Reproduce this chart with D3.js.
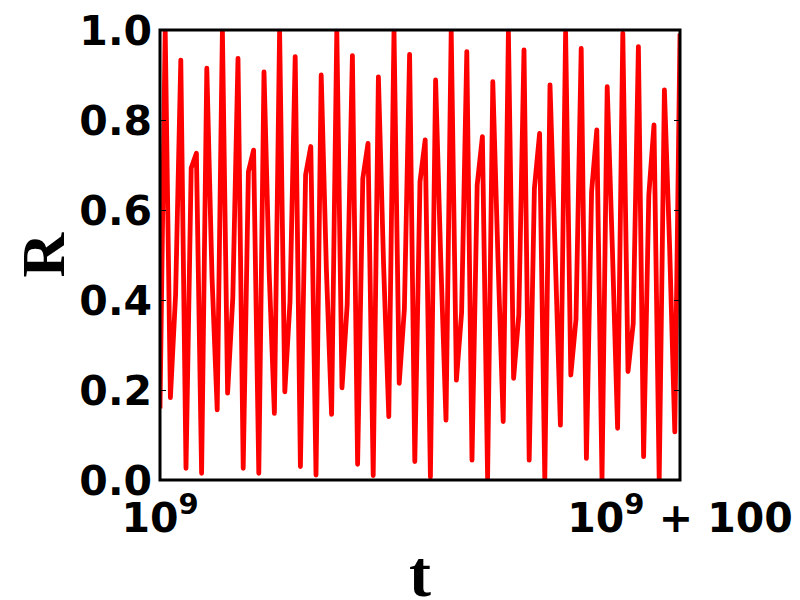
<!DOCTYPE html>
<html>
<head>
<meta charset="utf-8">
<script src="https://cdn.jsdelivr.net/npm/d3@7"></script>
<style>
  body { margin: 0; background: #fff; }
  .tick-label { font-family: "DejaVu Sans", sans-serif; font-weight: bold; font-size: 41px; fill: #000; }
  .axis-label { font-family: "Liberation Serif", serif; font-weight: bold; fill: #000; }
</style>
</head>
<body>
<div id="chart"></div>
<script>
'use strict';

// R sampled once per step, t = 10^9 + 0 ... 10^9 + 100
var rValues = [
  0.159, 1.000, 0.183, 0.412, 0.933, 0.026, 0.693, 0.726, 0.015, 0.915, 0.452,
  0.156, 0.999, 0.193, 0.405, 0.937, 0.026, 0.685, 0.733, 0.015, 0.907, 0.460,
  0.148, 0.999, 0.196, 0.397, 0.941, 0.030, 0.678, 0.741, 0.011, 0.900, 0.467,
  0.146, 0.998, 0.205, 0.390, 0.943, 0.035, 0.670, 0.748, 0.010, 0.896, 0.477,
  0.141, 0.998, 0.215, 0.381, 0.946, 0.041, 0.663, 0.756, 0.007, 0.889, 0.486,
  0.133, 0.997, 0.222, 0.372, 0.952, 0.044, 0.656, 0.763, 0.004, 0.885, 0.491,
  0.130, 0.996, 0.226, 0.367, 0.956, 0.044, 0.648, 0.770, 0.002, 0.878, 0.503,
  0.122, 0.995, 0.233, 0.357, 0.959, 0.048, 0.641, 0.778, 0.002, 0.874, 0.512,
  0.115, 0.993, 0.241, 0.347, 0.963, 0.052, 0.633, 0.789, 0.000, 0.867, 0.520,
  0.107, 0.992
];

var yTicks = [0, 0.2, 0.4, 0.6, 0.8, 1.0];
var xTicks = [0, 100];
var xTickExtra = ['', ' + 100'];

var width = 800;
var height = 600;
var margin = { top: 30, right: 120, bottom: 120, left: 160 };
var innerW = width - margin.left - margin.right;
var innerH = height - margin.top - margin.bottom;

var svg = d3.select('#chart').append('svg')
  .attr('width', width)
  .attr('height', height);

var g = svg.append('g')
  .attr('transform', 'translate(' + margin.left + ',' + margin.top + ')');

var x = d3.scaleLinear().domain([0, 100]).range([0, innerW]);
var y = d3.scaleLinear().domain([0, 1]).range([innerH, 0]);

g.append('clipPath')
  .attr('id', 'clip')
  .append('rect')
  .attr('width', innerW)
  .attr('height', innerH);

var line = d3.line()
  .x(function(d, i) { return x(i); })
  .y(function(d) { return y(d); });

g.append('path')
  .datum(rValues)
  .attr('clip-path', 'url(#clip)')
  .attr('fill', 'none')
  .attr('stroke', '#ff0000')
  .attr('stroke-width', 4.8)
  .attr('stroke-linejoin', 'round')
  .attr('d', line);

// inward ticks on both sides, labels on the left only
var yAxis = d3.axisLeft(y).tickValues(yTicks).tickSize(-6).tickPadding(8)
  .tickFormat(d3.format('.1f'));
var yAxisG = g.append('g').call(yAxis);
yAxisG.select('.domain').remove();
yAxisG.selectAll('text').attr('class', 'tick-label').attr('font-size', null)
  .attr('font-family', null).attr('dy', '0.36em');
yAxisG.selectAll('line').attr('stroke-width', 1);

var yAxisR = g.append('g')
  .attr('transform', 'translate(' + innerW + ',0)')
  .call(d3.axisRight(y).tickValues(yTicks).tickSize(-6).tickFormat(''));
yAxisR.select('.domain').remove();

g.append('rect')
  .attr('width', innerW)
  .attr('height', innerH)
  .attr('fill', 'none')
  .attr('stroke', '#000')
  .attr('stroke-width', 3);

// x tick labels: 10^9 and 10^9 + 100
xTicks.forEach(function(v, i) {
  var t = g.append('text')
    .attr('class', 'tick-label')
    .attr('x', x(v))
    .attr('y', innerH + 52)
    .attr('text-anchor', 'middle');
  t.append('tspan').text('10');
  t.append('tspan').attr('dy', -18).attr('font-size', 29).text('9');
  if (xTickExtra[i]) {
    t.append('tspan').attr('dy', 18).text(xTickExtra[i]);
  }
});

svg.append('text')
  .attr('class', 'axis-label')
  .attr('font-size', 62)
  .attr('transform', 'translate(64,' + (margin.top + innerH / 2) + ') rotate(-90)')
  .attr('text-anchor', 'middle')
  .text('R');

svg.append('text')
  .attr('class', 'axis-label')
  .attr('font-size', 66)
  .attr('x', margin.left + innerW / 2)
  .attr('y', 596)
  .attr('text-anchor', 'middle')
  .text('t');
</script>
</body>
</html>
